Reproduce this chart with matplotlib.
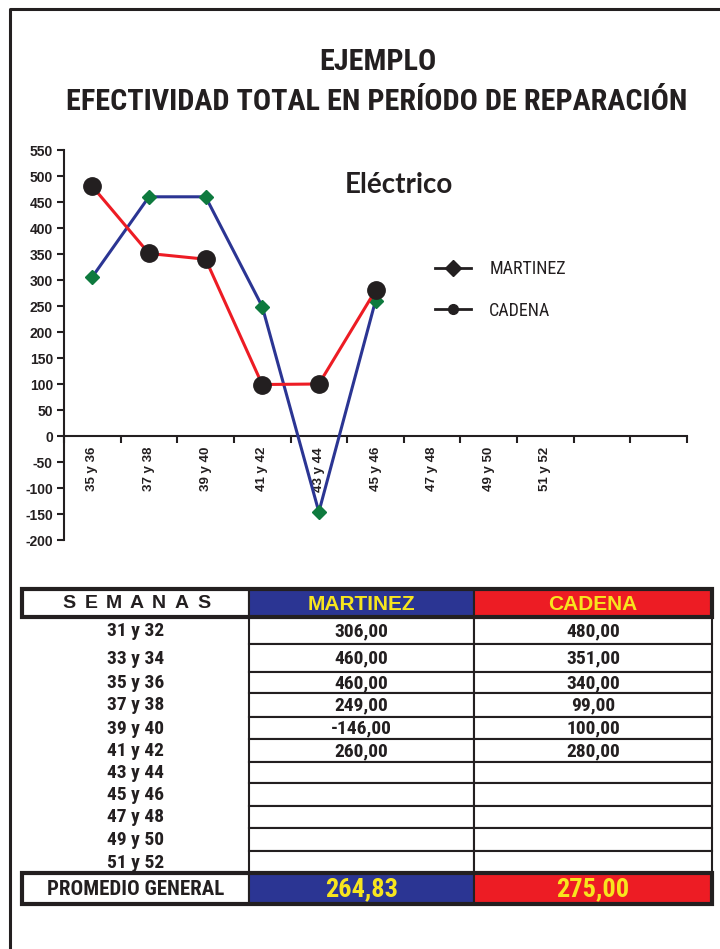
import matplotlib
matplotlib.use('Agg')
import matplotlib.pyplot as plt
from matplotlib import font_manager as fm
from matplotlib.patches import Rectangle
from matplotlib.lines import Line2D

# --- chart data ---
semanas_graf = ['35 y 36', '37 y 38', '39 y 40', '41 y 42', '43 y 44', '45 y 46',
                '47 y 48', '49 y 50', '51 y 52', '', '']
martinez = [306, 460, 460, 249, -146, 260]
cadena = [480, 351, 340, 99, 100, 280]
y_ticks = list(range(-200, 551, 50))

# --- table data ---
semanas_tabla = ['31 y 32', '33 y 34', '35 y 36', '37 y 38', '39 y 40', '41 y 42',
                 '43 y 44', '45 y 46', '47 y 48', '49 y 50', '51 y 52']
columnas = ['SEMANAS', 'MARTINEZ', 'CADENA']

AZUL = '#2B3593'
ROJO = '#ED1C24'
VERDE = '#0E7A3E'
AMARILLO = '#F7E51E'
NEGRO = '#231F20'


def pick_font(candidates):
    names = {f.name for f in fm.fontManager.ttflist}
    for c in candidates:
        if c in names:
            return c
    return candidates[-1]


NARROW = pick_font(['Liberation Sans Narrow', 'Arial Narrow', 'Roboto Condensed',
                    'Open Sans Condensed', 'Noto Sans Condensed', 'DejaVu Sans Condensed',
                    'Noto Sans'])
ARIAL = pick_font(['Liberation Sans', 'Arimo', 'DejaVu Sans'])


def fmt(v):
    return f'{v:,.2f}'.replace(',', 'X').replace('.', ',').replace('X', '.')


W, H = 720, 949
fig = plt.figure(figsize=(W / 100, H / 100), dpi=100)

# overlay in pixel coordinates for the frame, titles and the table
lay = fig.add_axes([0, 0, 1, 1])
lay.set_xlim(0, W)
lay.set_ylim(H, 0)
lay.axis('off')

lay.add_line(Line2D([10, 10, W], [H, 9, 9], color=NEGRO, lw=2.2))
t1 = lay.text(378, 62, 'EJEMPLO', ha='center', va='center', fontsize=22,
              fontweight='bold', family=NARROW, color=NEGRO)
t2 = lay.text(377, 102, 'EFECTIVIDAD TOTAL EN PERÍODO DE REPARACIÓN', ha='center',
              va='center', fontsize=22, fontweight='bold', family=NARROW, color=NEGRO)
# keep the long title inside the 619 px the reference uses
fig.canvas.draw()
w2 = t2.get_window_extent().width
if w2 > 619:
    t2.set_fontsize(22 * 619 / w2)
    t1.set_fontsize(22 * 619 / w2)

# --- line chart ---
ax = fig.add_axes([64 / W, 1 - 540 / H, 623 / W, 390 / H])
ax.patch.set_visible(False)
# spine position first: it resets the ticks
for s in ['top', 'right']:
    ax.spines[s].set_visible(False)
ax.spines['bottom'].set_position(('data', 0))
ax.spines['left'].set_linewidth(1.5)
ax.spines['bottom'].set_linewidth(1.5)
ax.spines['left'].set_color(NEGRO)
ax.spines['bottom'].set_color(NEGRO)

x_m = list(range(len(martinez)))
x_c = list(range(len(cadena)))
ax.plot(x_m, martinez, color=AZUL, lw=2.2, marker='D', ms=7,
        mfc=VERDE, mec=VERDE, zorder=3)
ax.plot(x_c, cadena, color=ROJO, lw=2.2, marker='o', ms=12.5,
        mfc=NEGRO, mec=NEGRO, zorder=4)

ax.set_xlim(-0.5, len(semanas_graf) - 0.5)
ax.set_ylim(-200, 550)
ax.set_yticks(y_ticks)
ax.set_yticklabels([str(v) for v in y_ticks], fontsize=10, fontweight='bold',
                   family=ARIAL, color=NEGRO)
ax.set_xticks(range(len(semanas_graf)))
ax.set_xticks([i - 0.5 for i in range(len(semanas_graf) + 1)], minor=True)
ax.tick_params(axis='x', which='major', length=0, pad=8)
ax.tick_params(axis='x', which='minor', length=5, width=1.5, direction='out', color=NEGRO)
ax.tick_params(axis='y', length=5, width=1.5, direction='out', color=NEGRO, pad=3)
ax.set_xticklabels(semanas_graf, rotation=90, fontsize=9.5, fontweight='bold',
                   family=ARIAL, color=NEGRO)

fig.text(399 / W, 1 - 185 / H, 'Eléctrico', ha='center', va='center', fontsize=20,
         fontweight='bold', family='Lato', color=NEGRO)

handles = [Line2D([], [], color=NEGRO, lw=2, marker='D', ms=8),
           Line2D([], [], color=NEGRO, lw=2, marker='o', ms=7)]
leg = ax.legend(handles, ['MARTINEZ', 'CADENA'], loc='upper left',
                bbox_to_anchor=(426 / W, 1 - 251 / H), bbox_transform=fig.transFigure,
                frameon=False, borderpad=0, handlelength=2.0, handletextpad=1.0,
                labelspacing=1.3, prop={'family': NARROW, 'size': 13})
for t in leg.get_texts():
    t.set_color(NEGRO)

# --- table ---
col_x = [22, 249, 474, 712]
head_top, head_bot = 589, 617
# row edges as laid out in the original sheet (slightly uneven)
row_y = [617, 644, 672, 693, 717, 739, 762, 783, 806, 828, 851, 873]
foot_top, foot_bot = 873, 904
head_colors = ['white', AZUL, ROJO]
head_text = [NEGRO, AMARILLO, AMARILLO]


def cell(c, top, bot, face, lw=1.5):
    lay.add_patch(Rectangle((col_x[c], top), col_x[c + 1] - col_x[c], bot - top,
                            facecolor=face, edgecolor=NEGRO, lw=lw, zorder=2))


def cx(c):
    return (col_x[c] + col_x[c + 1]) / 2


ym_head = (head_top + head_bot) / 2 + 1
for c in range(3):
    cell(c, head_top, head_bot, head_colors[c])
    if c == 0:
        # letter-spaced header, one letter at a time
        pitch = 22.5
        x0 = cx(0) + 1 - pitch * (len(columnas[0]) - 1) / 2
        for k, ch in enumerate(columnas[0]):
            lay.text(x0 + k * pitch, ym_head, ch, ha='center', va='center', fontsize=14,
                     fontweight='bold', family=ARIAL, color=NEGRO, zorder=3)
    else:
        lay.text(cx(c), ym_head, columnas[c], ha='center', va='center',
                 fontsize=15, fontweight='bold', family=ARIAL, color=head_text[c], zorder=3)
lay.add_patch(Rectangle((col_x[0], head_top), col_x[3] - col_x[0], head_bot - head_top,
                        fill=False, edgecolor=NEGRO, lw=3, zorder=4))

for i, sem in enumerate(semanas_tabla):
    top, bot = row_y[i], row_y[i + 1]
    ym = (top + bot) / 2 + 0.5
    lay.text(cx(0), ym, sem, ha='center', va='center', fontsize=14,
             fontweight='bold', family=NARROW, color=NEGRO)
    for c, serie in ((1, martinez), (2, cadena)):
        cell(c, top, bot, 'white')
        if i < len(serie):
            lay.text(cx(c), ym, fmt(serie[i]), ha='center', va='center', fontsize=14,
                     fontweight='bold', family=NARROW, color=NEGRO, zorder=3)

prom_m = sum(martinez) / len(martinez)
prom_c = sum(cadena) / len(cadena)
cell(0, foot_top, foot_bot, 'white')
cell(1, foot_top, foot_bot, AZUL)
cell(2, foot_top, foot_bot, ROJO)
ym_foot = (foot_top + foot_bot) / 2 + 1
lay.text(cx(0), ym_foot, 'PROMEDIO GENERAL', ha='center', va='center',
         fontsize=15, fontweight='bold', family=NARROW, color=NEGRO, zorder=3)
for c, v in ((1, prom_m), (2, prom_c)):
    lay.text(cx(c), ym_foot, fmt(v), ha='center', va='center',
             fontsize=19, fontweight='bold', family=NARROW, color=AMARILLO, zorder=3)
lay.add_patch(Rectangle((col_x[0], foot_top), col_x[3] - col_x[0], foot_bot - foot_top,
                        fill=False, edgecolor=NEGRO, lw=3, zorder=4))

fig.savefig('out.png', dpi=100)
